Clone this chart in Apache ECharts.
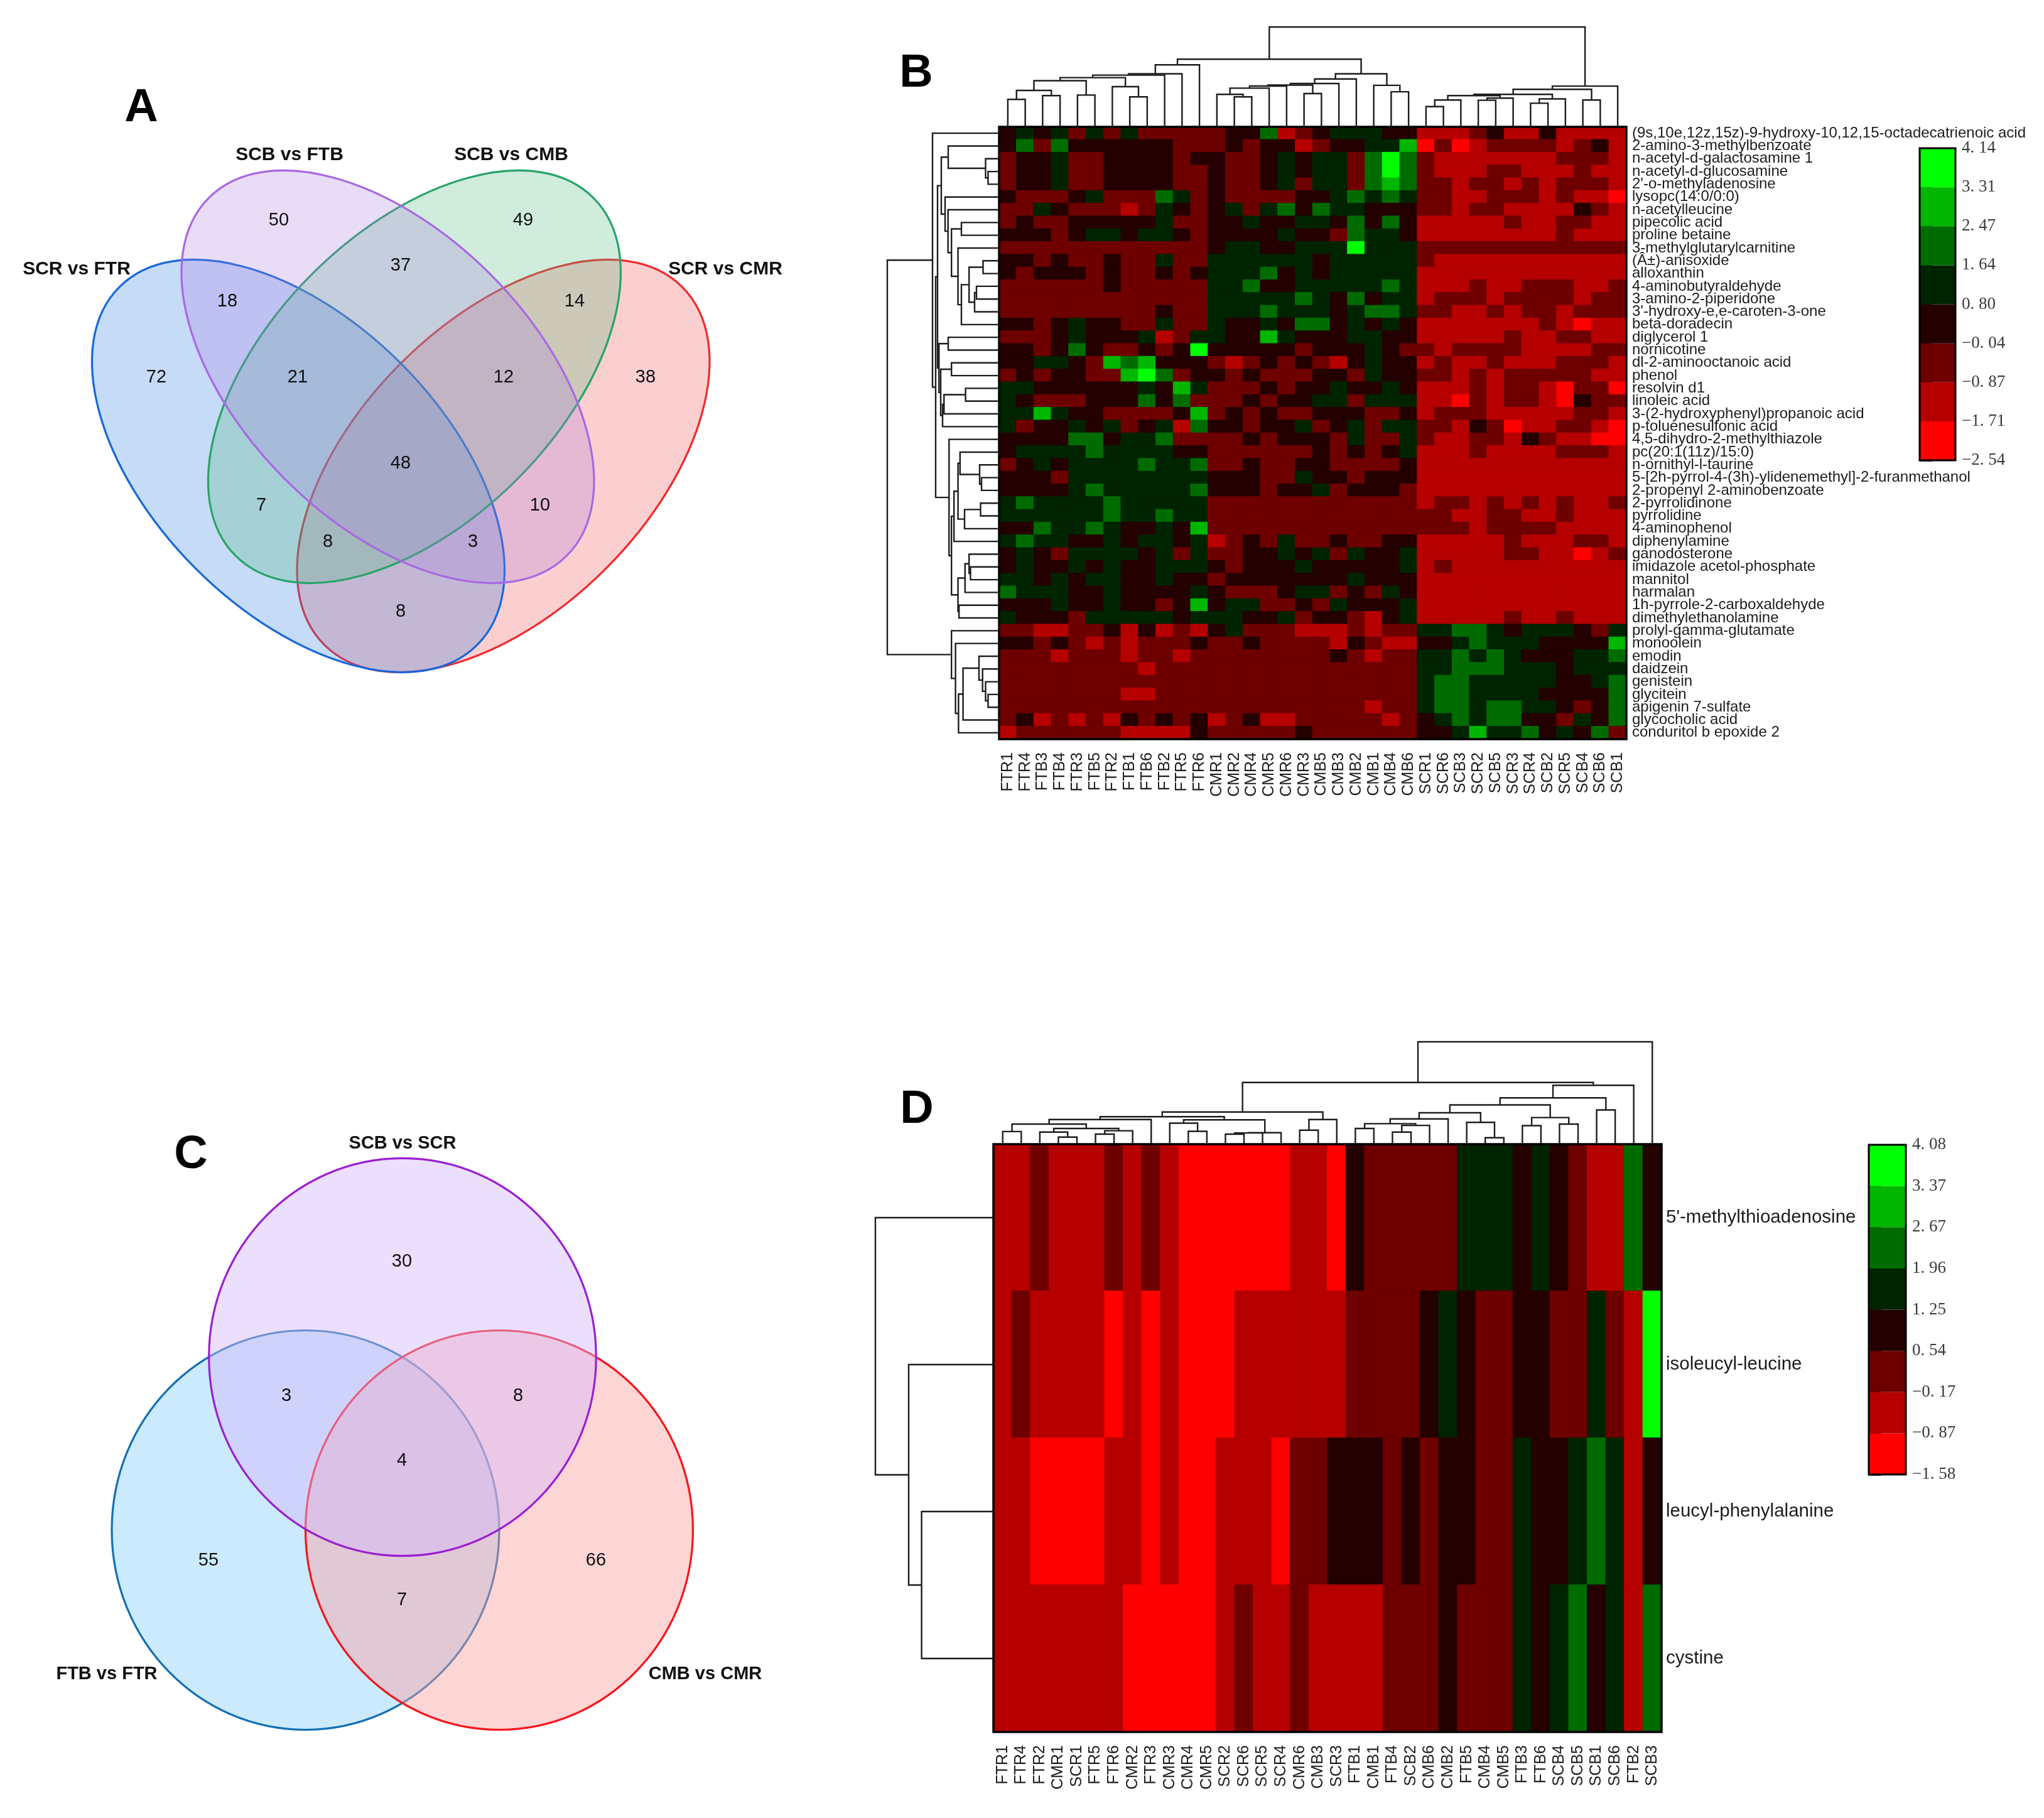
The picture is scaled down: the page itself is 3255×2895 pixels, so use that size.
<!DOCTYPE html>
<html><head><meta charset="utf-8"><title>Venn and heatmaps</title>
<style>html,body{margin:0;padding:0;background:#fff}#c{width:3255px;height:2895px}</style>
<script src="https://cdn.jsdelivr.net/npm/echarts@6/dist/echarts.min.js"></script>
</head><body><div id="c"></div>
<script>
// ---------- shared colour bands (low to high)
const bandColors = ['#ff0000','#b60000','#6e0000','#240000','#002400','#006c00','#00b600','#00ff00'];

// ---------- panel A
const vennATitles = ['SCR vs FTR','SCB vs FTB','SCB vs CMB','SCR vs CMR'];
const vennATitlePos = [[122,429],[461,247],[814,247],[1155,429]];
const vennACounts = [72,18,50,21,37,49,12,14,38,48,7,8,10,3,8];
const vennACountPos = [[249,601],[362,480],[444,351],[474,601],[638,423],[833,351],[802,601],[915,480],[1028,601],[638,738],[416,805],[522,863],[860,805],[753,863],[638,974]];
// [cx, cy, rx, ry, tilt in degrees]
const vennAShapes = [[801.5,742,403,231,45],[475,742,403,231,-45],[660,600,403,231,45],[617.5,600,403,231,-45]];
const vennAFill = ['rgba(241,78,81,0.27)','rgba(44,122,226,0.27)','rgba(78,185,126,0.27)','rgba(170,126,226,0.27)'];
const vennAStroke = ['#ef2b2e','#1668da','#27a468','#a868e2'];

// ---------- panel C
const vennCTitles = ['SCB vs SCR','FTB vs FTR','CMB vs CMR'];
const vennCTitlePos = [[641,1821],[170,2666],[1123,2666]];
const vennCCounts = [30,3,8,4,55,66,7];
const vennCCountPos = [[640,2009],[456,2223],[825,2223],[640,2326],[332,2485],[949,2485],[640,2548]];
const vennCShapes = [[486.5,2436.5,308.5,318,0],[795,2436.5,308.5,318,0],[641,2161,308.3,316.7,0]];
const vennCFill = ['rgba(136,207,252,0.44)','rgba(250,159,159,0.44)','rgba(213,184,251,0.45)'];
const vennCStroke = ['#146fb4','#f8141c','#9a20d0'];

// ---------- panel letters
const panelLetters = ['A','B','C','D'];
const panelLetterPos = [[225,173],[1459,118],[304,1840],[1460,1768]];

// ---------- panel B
const colsB = ['FTR1','FTR4','FTB3','FTB4','FTR3','FTB5','FTR2','FTB1','FTB6','FTB2','FTR5','FTR6','CMR1','CMR2','CMR4','CMR5','CMR6','CMR3','CMB5','CMB3','CMB2','CMB1','CMB4','CMB6','SCR1','SCR6','SCB3','SCR2','SCB5','SCR3','SCR4','SCB2','SCR5','SCB4','SCB6','SCB1'];
const rowsB = ['(9s,10e,12z,15z)-9-hydroxy-10,12,15-octadecatrienoic acid','2-amino-3-methylbenzoate','n-acetyl-d-galactosamine 1','n-acetyl-d-glucosamine',"2'-o-methyladenosine",'lysopc(14:0/0:0)','n-acetylleucine','pipecolic acid','proline betaine','3-methylglutarylcarnitine','(Â±)-anisoxide','alloxanthin','4-aminobutyraldehyde','3-amino-2-piperidone',"3'-hydroxy-e,e-caroten-3-one",'beta-doradecin','diglycerol 1','nornicotine','dl-2-aminooctanoic acid','phenol','resolvin d1','linoleic acid','3-(2-hydroxyphenyl)propanoic acid','p-toluenesulfonic acid','4,5-dihydro-2-methylthiazole','pc(20:1(11z)/15:0)','n-ornithyl-l-taurine','5-[2h-pyrrol-4-(3h)-ylidenemethyl]-2-furanmethanol','2-propenyl 2-aminobenzoate','2-pyrrolidinone','pyrrolidine','4-aminophenol','diphenylamine','ganodosterone','imidazole acetol-phosphate','mannitol','harmalan','1h-pyrrole-2-carboxaldehyde','dimethylethanolamine','prolyl-gamma-glutamate','monoolein','emodin','daidzein','genistein','glycitein','apigenin 7-sulfate','glycocholic acid','conduritol b epoxide 2'];
const ticksB = [-2.54,-1.71,-0.87,-0.04,0.80,1.64,2.47,3.31,4.14];
const tickLabelsB = ['\u22122. 54','\u22121. 71','\u22120. 87','\u22120. 04','0. 80','1. 64','2. 47','3. 31','4. 14'];
// one digit per cell: the colour band the cell falls in (0 = lowest band)
const bandsB = [
'343424242222233512344433111231131111',
'352533333322232331233446020122221231',
'233422333323322343442575211111112221',
'233422333322322343442575211122111211',
'233422333322322342442565221221212221',
'322234222542322223345454221122212110',
'224322212432342453544333221221111321',
'232233333422334334435353111112112211',
'333234434432333343325443111111112111',
'222222222222344334447444222222222222',
'332322322422444444344444211111111111',
'323332322323444534344444111111111111',
'222222322222445334444454111211222112',
'222222222222444445435344122212222122',
'222222222322444544434554221121221222',
'332343322422433435534343111111121011',
'222343334124433643334433111112112211',
'332353223237333332333432212222111122',
'334432656333212323213433121121112221',
'232332267523323222332433221212222211',
'443333334364222323343343111212210220',
'432223335352223233442444110212210322',
'446433222236232322333223122211111221',
'423343423415332334234244221320112210',
'333355344522223233324224211221321100',
'344445444433222222323234111211112221',
'234344445445223223322223111111111111',
'333244444444333224332333111111111111',
'333345444445333233423332111111111111',
'454444544444222222222222122121212112',
'444444544544222222222222221122112111',
'335445433436222222222222222122221111',
'454433434434123242232233111112111221',
'343244443424223343424334111112211012',
'343343433444323334333334121111111111',
'443434433433233333334333111111111111',
'544433433334322234423243111111111111',
'333433433236344223243334111111111111',
'433324444434443342332134111112112111',
'221122313121342221112122445543444324',
'332321212223223222213211334544433336',
'222122212212222222232122445454333445',
'222222221222222222222222445554443444',
'222222222222222222222222455444443345',
'222222211222222222222222455444433335',
'222222222222222222222122455455443235',
'231212132323123112222212345455332435',
'122222211113222223222222334644534352'];
// cluster trees: [height, left child, right child]; a bare number is a leaf index
const treeColsB = [159,
  [107.8,
    [98.8,[84.5,[82.4,[78.4,[73.5,[58,[43.7,0,1],[49.8,2,3]],[50.6,4,5]],[64,6,[47.8,7,8]]],9],10],11],
    [84.5,[76.3,[69,[66.5,[65,[61.6,[51.8,12,[47.8,13,14]],15],16],[53,17,18]],19],20],[66.1,21,[55.9,22,23]]]],
  [64.9,[59.8,[51.8,[49.8,[42.8,[32.2,24,25],26],[45.7,[42.4,27,28],29]],[44.5,[37.6,30,31],32]],[42.8,33,34]],35]];
const treeRowsB = [178,
  [106,0,
    [101,
      [98,
        [92,
          [81,1,[21.5,2,[17.5,3,4]]],
          [86,5,[81.3,6,[75.8,[60,7,8],[65.4,9,[60,[47.8,[25.5,10,11],[39,[36,12,13],14]],15]]]]]],
        [95.7,[81,16,17],[93,[75.8,18,19],[90,[87.7,[53.4,20,21],22],23]]]],
      [79.7,24,[75.8,
        [71.8,[65.4,[62.2,25,[31,26,[28,27,28]]],[55,[29.5,29,30],31]],32],
        [65.4,[54.2,[47.8,33,[45.5,34,35]],36],[63.8,37,38]]]]]],
  [75.8,39,[69.4,40,[64.6,[57.4,[32,41,[26.3,42,[21.5,43,[17.5,44,45]]]],46],47]]]];

// ---------- panel D
const colsD = ['FTR1','FTR4','FTR2','CMR1','SCR1','FTR5','FTR6','CMR2','FTR3','CMR3','CMR4','CMR5','SCR2','SCR6','SCR5','SCR4','CMR6','CMB3','SCR3','FTB1','CMB1','FTB4','SCB2','CMB6','CMB2','FTB5','CMB4','CMB5','FTB3','FTB6','SCB4','SCB5','SCB1','SCB6','FTB2','SCB3'];
const rowsD = ["5'-methylthioadenosine",'isoleucyl-leucine','leucyl-phenylalanine','cystine'];
const ticksD = [-1.58,-0.87,-0.17,0.54,1.25,1.96,2.67,3.37,4.08];
const tickLabelsD = ['\u22121. 58','\u22120. 87','\u22120. 17','0. 54','1. 25','1. 96','2. 67','3. 37','4. 08'];
const bandsD = [
'112111212100000011032222244434321153',
'121111010100011111122223432233224217',
'110000110100111022333232332243345413',
'111111100000121121111222322243453415'];
const treeColsD = [163,
  [98.2,
    [51.3,
      [43.8,
        [39.3,[32,[20.1,0,1],[25,[19.2,2,[11.2,3,4]],[21.4,[16,5,6],7]]],8],
        [38.8,[33.5,9,[20.5,10,11]],[18.3,[17.9,[16,12,13],14],15]]],
      [39.3,[22.3,16,17],18]],
    [93.8,[73.7,[62.5,[50,[40.2,[32.6,[25,19,20],[29.9,[19.2,21,22],23]],24],[34.8,25,[10.3,26,27]]],[42.4,[29.5,28,29],[32,30,31]]],[54.5,32,33]],34]],
  35];
const treeRowsD = [188,0,[135,1,[114.4,2,3]]];

// ---------- helpers
function toCells(rows, ticks){
  const out=[];
  rows.forEach((r,y)=>{ for(let x=0;x<r.length;x++){ const b=+r[x];
    out.push({value:[x,y,+((ticks[b]+ticks[b+1])/2).toFixed(3)],itemStyle:{borderColor:bandColors[b],borderWidth:1}}); } });
  return out;
}
function treeSegments(node,segs){
  if(typeof node==='number') return {p:node,h:0};
  const a=treeSegments(node[1],segs), b=treeSegments(node[2],segs);
  segs.push([a.p,a.h,b.p,b.h,node[0]]);
  return {p:(a.p+b.p)/2,h:node[0]};
}
function dendroSeries(tree,gridIdx,horizontal){
  const segs=[]; treeSegments(tree,segs);
  return {type:'custom',xAxisIndex:gridIdx,yAxisIndex:gridIdx,silent:true,clip:false,data:segs,
    encode:{x:horizontal?4:0,y:horizontal?0:4},
    renderItem:(params,api)=>{
      const pt=(p,h)=>api.coord(horizontal?[h,p]:[p,h]);
      const pa=api.value(0),ha=api.value(1),pb=api.value(2),hb=api.value(3),h=api.value(4);
      return {type:'polyline',shape:{points:[pt(pa,ha),pt(pa,h),pt(pb,h),pt(pb,hb)]},
        style:{stroke:'#1c1c1c',lineWidth:2.4,fill:'none'}};
    }};
}
function vennSeries(shapes,fills,strokes){
  return {type:'custom',xAxisIndex:0,yAxisIndex:0,silent:true,clip:false,data:shapes,
    renderItem:(params,api)=>{
      const c=api.coord([api.value(0),api.value(1)]), s=api.size([api.value(2),api.value(3)]);
      return {type:'ellipse',x:c[0],y:c[1],rotation:api.value(4)*Math.PI/180,
        shape:{cx:0,cy:0,rx:s[0],ry:s[1]},
        style:{fill:fills[params.dataIndex],stroke:strokes[params.dataIndex],lineWidth:3.2}};
    }};
}
function textSeries(texts,pos,font,fill){
  return {type:'custom',xAxisIndex:0,yAxisIndex:0,silent:true,clip:false,z:20,data:pos,
    renderItem:(params,api)=>{
      const c=api.coord([api.value(0),api.value(1)]);
      return {type:'text',x:c[0],y:c[1],style:{text:String(texts[params.dataIndex]),font:font,fill:fill,textAlign:'center',textVerticalAlign:'middle'}};
    }};
}
function barSeries(gridIdx){
  return {type:'custom',xAxisIndex:gridIdx,yAxisIndex:gridIdx,silent:true,clip:false,data:bandColors.map((c,i)=>[0,i]),
    renderItem:(params,api)=>{
      const i=api.value(1), a=api.coord([0,i+1]), b=api.coord([1,i]);
      return {type:'rect',shape:{x:a[0],y:a[1],width:b[0]-a[0],height:b[1]-a[1]},style:{fill:bandColors[i]}};
    }};
}
function frameSeries(gridIdx,w){
  return {type:'custom',xAxisIndex:gridIdx,yAxisIndex:gridIdx,silent:true,clip:false,z:15,data:[[0,0]],
    renderItem:(params)=>{
      const r=params.coordSys;
      return {type:'rect',shape:{x:r.x,y:r.y,width:r.width,height:r.height},style:{fill:'none',stroke:'#000',lineWidth:w}};
    }};
}
const hide={show:false};
function valAxes(gridIdx,xr,yr,xinv,yinv){
  return [{gridIndex:gridIdx,type:'value',min:xr[0],max:xr[1],inverse:!!xinv,axisLine:hide,axisTick:hide,axisLabel:hide,splitLine:hide},
          {gridIndex:gridIdx,type:'value',min:yr[0],max:yr[1],inverse:!!yinv,axisLine:hide,axisTick:hide,axisLabel:hide,splitLine:hide}];
}
function heatAxes(gridIdx,cols,rows,rowFont,rowMargin){
  return [{gridIndex:gridIdx,type:'category',data:cols,position:'bottom',splitArea:hide,splitLine:hide,axisLine:hide,axisTick:hide,
            axisLabel:{interval:0,rotate:90,margin:21,fontSize:25,fontFamily:'Liberation Sans',color:'#1c1c1c',hideOverlap:false}},
          {gridIndex:gridIdx,type:'category',data:rows,inverse:true,position:'right',splitArea:hide,splitLine:hide,axisLine:hide,axisTick:hide,
            axisLabel:{interval:0,margin:rowMargin,fontSize:rowFont,fontFamily:'Liberation Sans',color:'#1c1c1c',hideOverlap:false}}];
}
function barAxes(gridIdx,labels){
  return [{gridIndex:gridIdx,type:'value',min:0,max:1,axisLine:hide,axisTick:hide,axisLabel:hide,splitLine:hide},
          {gridIndex:gridIdx,type:'category',data:labels,position:'right',boundaryGap:false,
           axisLine:{show:true,lineStyle:{color:'#222',width:3}},
           axisTick:{show:true,length:20,alignWithLabel:true,lineStyle:{color:'#222',width:3}},
           splitLine:hide,splitArea:hide,
           axisLabel:{interval:0,margin:10,fontSize:27,fontFamily:'Liberation Serif',color:'#3a3a3a',hideOverlap:false}}];
}
function pieces(ticks){ return bandColors.map((c,i)=>({gte:ticks[i],lt:ticks[i+1]+(i===7?1:0),color:c})); }

const grids=[
 {left:0,top:0,width:3255,height:2895},
 {left:1591,top:202,width:999,height:975},
 {left:1591,top:43,width:999,height:159},
 {left:1413,top:202,width:178,height:975},
 {left:3057,top:236,width:57,height:497},
 {left:1582,top:1822,width:1064,height:936},
 {left:1582,top:1659,width:1064,height:163},
 {left:1394,top:1822,width:188,height:936},
 {left:2976,top:1823,width:59,height:525}
];
const a0=valAxes(0,[0,3255],[0,2895],false,true),
      a1=heatAxes(1,colsB,rowsB,24,9),
      a2=valAxes(2,[-0.5,35.5],[0,159]),
      a3=valAxes(3,[0,178],[-0.5,47.5],true,true),
      a4=barAxes(4,tickLabelsB),
      a5=heatAxes(5,colsD,rowsD,29.5,7),
      a6=valAxes(6,[-0.5,35.5],[0,163]),
      a7=valAxes(7,[0,188],[-0.5,3.5],true,true),
      a8=barAxes(8,tickLabelsD);
const all=[a0,a1,a2,a3,a4,a5,a6,a7,a8];

const series=[
 vennSeries(vennAShapes,vennAFill,vennAStroke),
 vennSeries(vennCShapes,vennCFill,vennCStroke),
 textSeries(vennACounts,vennACountPos,'29px "Liberation Sans"','#111'),
 textSeries(vennCCounts,vennCCountPos,'29px "Liberation Sans"','#111'),
 textSeries(vennATitles,vennATitlePos,'bold 30px "Liberation Sans"','#111'),
 textSeries(vennCTitles,vennCTitlePos,'bold 29px "Liberation Sans"','#111'),
 textSeries(panelLetters,panelLetterPos,'bold 74px "Liberation Sans"','#000'),
 {id:'heatB',type:'heatmap',xAxisIndex:1,yAxisIndex:1,data:toCells(bandsB,ticksB),silent:true,progressive:0},
 frameSeries(1,3.5),
 dendroSeries(treeColsB,2,false),
 dendroSeries(treeRowsB,3,true),
 barSeries(4),frameSeries(4,3),
 {id:'heatD',type:'heatmap',xAxisIndex:5,yAxisIndex:5,data:toCells(bandsD,ticksD),silent:true,progressive:0},
 frameSeries(5,3.5),
 dendroSeries(treeColsD,6,false),
 dendroSeries(treeRowsD,7,true),
 barSeries(8),frameSeries(8,3)
];
const heatIdxB=series.findIndex(s=>s.id==='heatB'), heatIdxD=series.findIndex(s=>s.id==='heatD');

echarts.init(document.getElementById('c'),null,{renderer:'canvas',devicePixelRatio:1}).setOption({
 animation:false,backgroundColor:'#fff',tooltip:{show:false},legend:{show:false},
 grid:grids,
 xAxis:all.map(a=>a[0]),
 yAxis:all.map(a=>a[1]),
 visualMap:[
  {type:'piecewise',show:false,seriesIndex:heatIdxB,dimension:2,pieces:pieces(ticksB)},
  {type:'piecewise',show:false,seriesIndex:heatIdxD,dimension:2,pieces:pieces(ticksD)}
 ],
 series:series
});
</script></body></html>
